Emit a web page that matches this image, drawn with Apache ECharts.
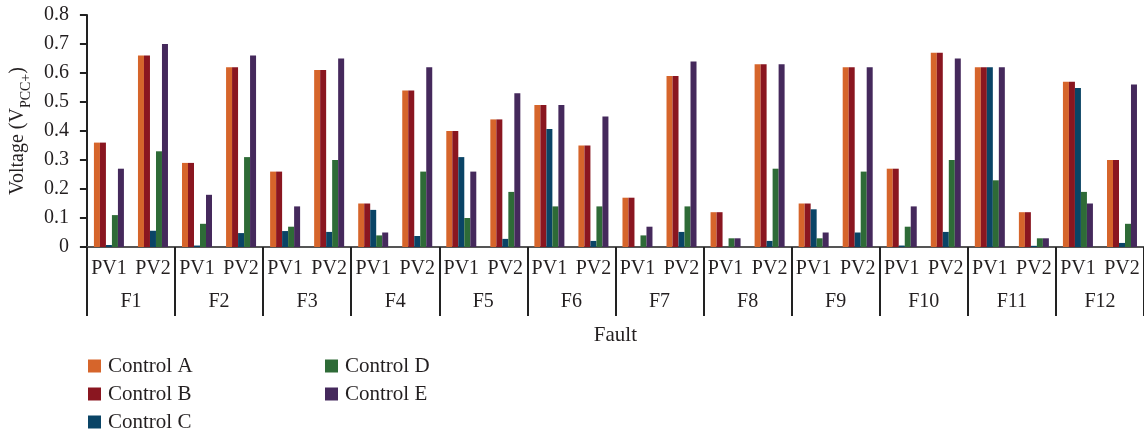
<!DOCTYPE html>
<html>
<head>
<meta charset="utf-8">
<script src="https://cdn.jsdelivr.net/npm/echarts@6/dist/echarts.min.js"></script>
<style>html,body{margin:0;padding:0;background:#fff;}#c{width:1144px;height:432px;}</style>
</head>
<body>
<div id="c"></div>
<script>
var categories = ['PV1','PV2','PV1','PV2','PV1','PV2','PV1','PV2','PV1','PV2','PV1','PV2','PV1','PV2','PV1','PV2','PV1','PV2','PV1','PV2','PV1','PV2','PV1','PV2'];
var faults = ['F1','F2','F3','F4','F5','F6','F7','F8','F9','F10','F11','F12'];
var yTicks = [0, 0.1, 0.2, 0.3, 0.4, 0.5, 0.6, 0.7, 0.8];
var controlA = [0.36,0.66, 0.29,0.62, 0.26,0.61, 0.15,0.54, 0.40,0.44, 0.49,0.35, 0.17,0.59, 0.12,0.63, 0.15,0.62, 0.27,0.67, 0.62,0.12, 0.57,0.30];
var controlB = [0.36,0.66, 0.29,0.62, 0.26,0.61, 0.15,0.54, 0.40,0.44, 0.49,0.35, 0.17,0.59, 0.12,0.63, 0.15,0.62, 0.27,0.67, 0.62,0.12, 0.57,0.30];
var controlC = [0.007,0.056, 0.005,0.048, 0.055,0.052, 0.128,0.038, 0.31,0.028, 0.407,0.021, 0,0.052, 0,0.021, 0.13,0.05, 0.005,0.052, 0.62,0.004, 0.548,0.014];
var controlD = [0.11,0.33, 0.08,0.31, 0.07,0.30, 0.04,0.26, 0.10,0.19, 0.14,0.14, 0.04,0.14, 0.03,0.27, 0.03,0.26, 0.07,0.30, 0.23,0.03, 0.19,0.08];
var controlE = [0.27,0.70, 0.18,0.66, 0.14,0.65, 0.05,0.62, 0.26,0.53, 0.49,0.45, 0.07,0.64, 0.03,0.63, 0.05,0.62, 0.14,0.65, 0.62,0.03, 0.15,0.56];

var FONT = 'Liberation Serif';
var TXT = '#231f20';
var colors = ['#d6652b','#8a1620','#0a4466','#2e6b37','#45295c'];
var names = ['Control A','Control B','Control C','Control D','Control E'];
var values = [controlA, controlB, controlC, controlD, controlE];

var chart = echarts.init(document.getElementById('c'));
var series = values.map(function (v, i) {
  return {
    name: names[i], type: 'bar', data: v, barWidth: 6, barGap: '0%',
    itemStyle: { color: colors[i] }, xAxisIndex: 0, yAxisIndex: 0
  };
});
function legendCol(items, left) {
  return { data: items, orient: 'vertical', left: left, top: 350, height: 120,
    itemWidth: 13, itemHeight: 13, itemGap: 6, icon: 'rect',
    textStyle: { fontFamily: FONT, fontSize: 21, lineHeight: 22, color: TXT, padding: [0,0,0,2] } };
}
chart.setOption({
  animation: false,
  color: colors,
  grid: { left: 83, top: 15, width: 1068, height: 232, containLabel: false },
  legend: [ legendCol(names.slice(0,3), 83), legendCol(names.slice(3), 320) ],
  xAxis: [
    { type: 'category', data: categories, position: 'bottom',
      axisLine: { show: true, lineStyle: { color: '#555', width: 2 } },
      axisTick: { show: false },
      axisLabel: { interval: 0, margin: 12, fontFamily: FONT, fontSize: 20, color: TXT },
      name: 'Fault', nameLocation: 'middle', nameGap: 78,
      nameTextStyle: { fontFamily: FONT, fontSize: 21, color: TXT }
    },
    { type: 'category', data: faults, position: 'bottom', offset: 0,
      axisLine: { show: false },
      axisTick: { show: true, length: 69, inside: false, lineStyle: { color: '#222', width: 2 } },
      axisLabel: { interval: 0, margin: 45, fontFamily: FONT, fontSize: 20, color: TXT },
      splitLine: { show: false }
    }
  ],
  yAxis: {
    type: 'value', min: 0, max: 0.8, interval: 0.1,
    axisLine: { show: true, lineStyle: { color: '#222', width: 2 } },
    axisTick: { show: true, length: 7, lineStyle: { color: '#222', width: 2 } },
    splitLine: { show: false },
    axisLabel: { margin: 18, fontFamily: FONT, fontSize: 20, color: TXT,
      formatter: function (v) { var t = yTicks.filter(function (x) { return Math.abs(x - v) < 1e-9; }); return t.length ? String(t[0]) : ''; } },
    name: '{a|Voltage (V}{b|PCC+}{a|)}', nameLocation: 'middle', nameGap: 57,
    nameTextStyle: { fontFamily: FONT, fontSize: 20, color: TXT,
      rich: { a: { fontFamily: FONT, fontSize: 20, color: TXT, lineHeight: 24, verticalAlign: 'bottom' },
              b: { fontFamily: FONT, fontSize: 14, color: TXT, lineHeight: 24, verticalAlign: 'bottom', padding: [0,0,-5,0] } } }
  },
  series: series
});
</script>
</body>
</html>
